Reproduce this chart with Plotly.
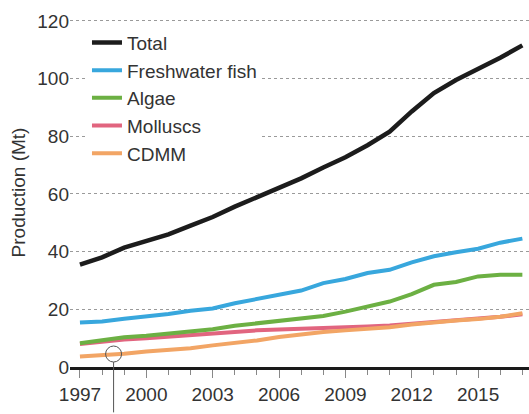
import plotly.graph_objects as go

years = list(range(1997, 2018))
total = [35.5, 38.0, 41.4, 43.5, 46.0, 49.0, 52.0, 55.6, 58.8, 62.3, 65.4,
         69.2, 72.7, 76.9, 81.6, 88.6, 95.0, 99.5, 103.3, 107.2, 111.5]
freshwater = [15.4, 15.8, 16.7, 17.5, 18.4, 19.5, 20.3, 22.1, 23.5, 24.9, 26.5,
              29.1, 30.5, 32.6, 33.7, 36.3, 38.4, 39.8, 41.0, 43.1, 44.5]
algae = [8.2, 9.4, 10.3, 10.8, 11.5, 12.3, 13.1, 14.3, 15.2, 16.0, 16.9,
         17.7, 19.2, 21.0, 22.7, 25.3, 28.5, 29.5, 31.4, 32.0, 32.0]
molluscs = [8.0, 8.8, 9.5, 10.0, 10.6, 11.2, 11.8, 12.3, 12.7, 13.0, 13.2,
            13.4, 13.7, 14.0, 14.4, 15.0, 15.6, 16.2, 16.7, 17.4, 18.3]
cdmm = [3.6, 4.0, 4.6, 5.4, 5.9, 6.5, 7.5, 8.3, 9.2, 10.4, 11.3,
        12.1, 12.7, 13.2, 13.8, 14.7, 15.5, 16.1, 16.6, 17.4, 18.6]

x_tick_vals = [1997, 2000, 2003, 2006, 2009, 2012, 2015]
y_tick_vals = [0, 20, 40, 60, 80, 100, 120]

# (name, values, colour, width, legend rank)
series = [
    ("Total", total, "#1c1c1c", 4.5, 1),
    ("Freshwater fish", freshwater, "#38a7dd", 4, 2),
    ("Algae", algae, "#6cb043", 4, 3),
    ("Molluscs", molluscs, "#e1657f", 4, 4),
    ("CDMM", cdmm, "#f2a565", 4, 5),
]
# drawing order (bottom to top)
draw_order = ["Molluscs", "CDMM", "Algae", "Freshwater fish", "Total"]

fig = go.Figure()
lookup = {s[0]: s for s in series}
for name in draw_order:
    _, vals, color, w, rank = lookup[name]
    fig.add_trace(go.Scatter(
        x=years, y=vals, mode="lines", name=name,
        line=dict(color=color, width=w),
        legendrank=rank,
    ))

FONT = "Liberation Sans, Arial, sans-serif"
TXT = "#333333"

fig.update_layout(
    width=529, height=414,
    margin=dict(l=70, r=0, t=18, b=47),
    paper_bgcolor="white", plot_bgcolor="white",
    font=dict(family=FONT, size=19, color=TXT),
    showlegend=True,
    legend=dict(
        x=0.037, y=0.984, xanchor="left", yanchor="top",
        bgcolor="white", borderwidth=0,
        font=dict(family=FONT, size=19, color=TXT),
        tracegroupgap=0, itemwidth=30,
    ),
    xaxis=dict(
        range=[1996.55, 2017.3],
        tickmode="array", tickvals=x_tick_vals,
        ticks="outside", ticklen=8, tickwidth=1, tickcolor="#888888",
        minor=dict(dtick=1, tick0=1997, ticks="outside", ticklen=5,
                   tickcolor="#888888", showgrid=False),
        showline=True, linecolor="#1a1a1a", linewidth=3,
        showgrid=False, zeroline=False,
        tickfont=dict(size=19, color=TXT),
    ),
    yaxis=dict(
        range=[0, 121],
        tickmode="array", tickvals=y_tick_vals,
        showgrid=True, gridcolor="#9a9a9a", griddash="dot", gridwidth=1,
        zeroline=False, showline=False, ticks="",
        tickfont=dict(size=19, color=TXT),
        title=dict(text="Production (Mt)", font=dict(size=19, color=TXT),
                   standoff=6),
    ),
)

# small annotation marker (circle with a pointer line) seen in the source
fig.add_shape(type="circle", xref="x", yref="y",
              xsizemode="pixel", ysizemode="pixel",
              xanchor=1998.52, yanchor=4.5,
              x0=-8, x1=8, y0=-8, y1=8,
              line=dict(color="#555555", width=1))
fig.add_shape(type="line", xref="x", yref="paper",
              x0=1998.52, x1=1998.52, y0=0.014, y1=-0.13,
              line=dict(color="#555555", width=1))

fig.write_html("out.html",
               config={"displayModeBar": False},
               post_script="document.body.style.margin='0';document.body.style.padding='0';")
